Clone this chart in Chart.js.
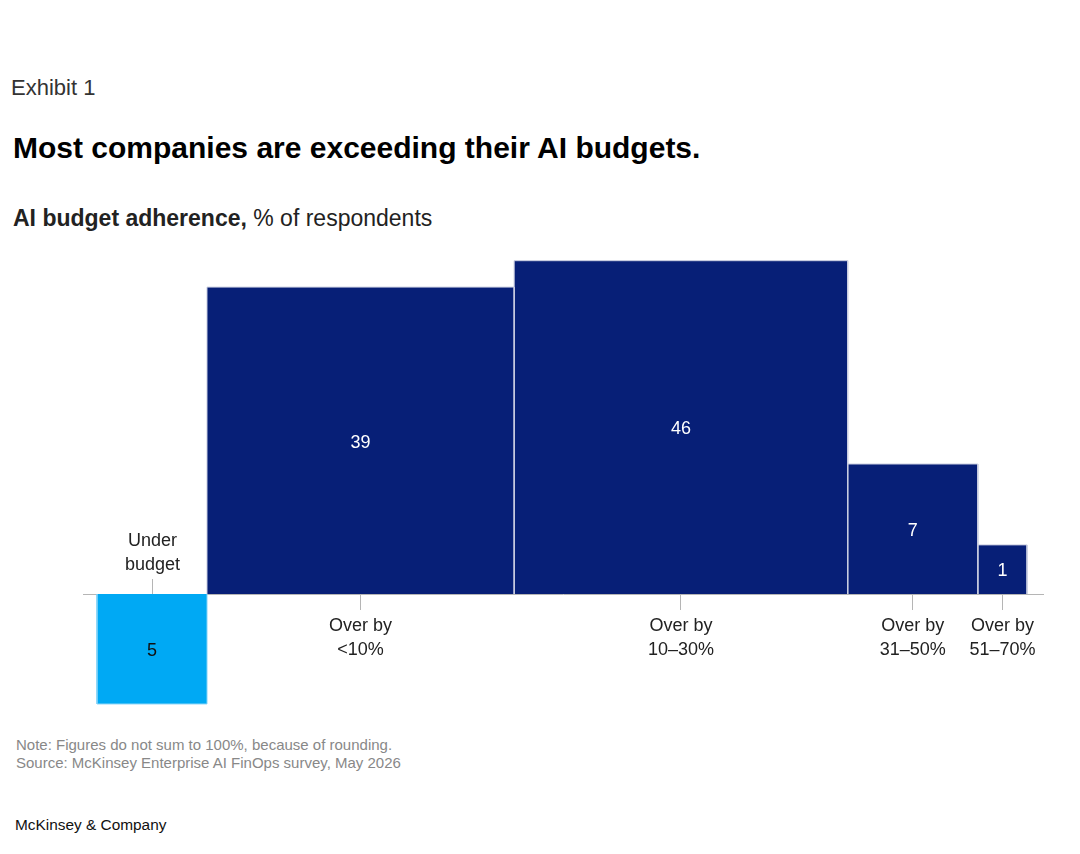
<!DOCTYPE html>
<html>
<head>
<meta charset="utf-8">
<script src="https://cdn.jsdelivr.net/npm/chart.js@4.4.1/dist/chart.umd.min.js"></script>
<style>
body{margin:0;width:1080px;height:854px;background:#fff;font-family:"Liberation Sans",Arial,sans-serif;position:relative;overflow:hidden}
.t{position:absolute;white-space:nowrap}
#exhibit{left:11px;top:76px;font-size:22px;line-height:24px;color:#333}
#title{left:13px;top:130px;font-size:30px;line-height:36px;font-weight:bold;color:#000}
#sub{left:13px;top:205px;font-size:23px;line-height:26px;color:#222}
#note{left:16px;top:736px;font-size:15px;line-height:18px;color:#888}
#brand{left:15px;top:815px;font-size:15.4px;line-height:20px;color:#111}
#wrap{position:absolute;left:0;top:240px;width:1080px;height:480px}
</style>
</head>
<body>
<div class="t" id="exhibit">Exhibit 1</div>
<div class="t" id="title">Most companies are exceeding their AI budgets.</div>
<div class="t" id="sub"><b>AI budget adherence,</b> % of respondents</div>
<div class="t" id="note">Note: Figures do not sum to 100%, because of rounding.<br>Source: McKinsey Enterprise AI FinOps survey, May 2026</div>
<div class="t" id="brand">McKinsey &amp; Company</div>
<div id="wrap"><canvas id="myChart" width="1080" height="480"></canvas></div>
<script>
const categories = ['Under budget', 'Over by <10%', 'Over by 10–30%', 'Over by 31–50%', 'Over by 51–70%'];
const tickLabels = [['Under', 'budget'], ['Over by', '<10%'], ['Over by', '10–30%'], ['Over by', '31–50%'], ['Over by', '51–70%']];
const shares = [5, 39, 46, 7, 1];
const belowAxis = [true, false, false, false, false];
const fillColors = ['#00a9f4', '#071f77', '#071f77', '#071f77', '#071f77'];
const edgeColors = ['#7fd2f8', '#c9cde0', '#c9cde0', '#c9cde0', '#c9cde0'];
const valueColors = ['#111111', '#ffffff', '#ffffff', '#ffffff', '#ffffff'];

// each answer is a square whose area is the share
let edge = 0;
const squares = shares.map((v, i) => {
    const side = Math.sqrt(v);
    const sq = { x0: edge, x1: edge + side, h: belowAxis[i] ? -side : side };
    edge += side;
    return sq;
});
const centers = squares.map(s => (s.x0 + s.x1) / 2);

const squareLabels = {
    id: 'squareLabels',
    afterDatasetsDraw(chart) {
        const { ctx, scales: { x, y } } = chart;
        ctx.save();
        ctx.font = '18px "Liberation Sans", Arial, sans-serif';
        ctx.textAlign = 'center';
        ctx.textBaseline = 'middle';
        squares.forEach((s, i) => {
            ctx.fillStyle = valueColors[i];
            ctx.fillText(String(shares[i]), x.getPixelForValue(centers[i]), y.getPixelForValue(s.h / 2) + 2);
        });
        // label for the bar that hangs below the axis goes above it
        const base = y.getPixelForValue(0);
        belowAxis.forEach((b, i) => {
            if (!b) return;
            const px = Math.round(x.getPixelForValue(centers[i])) + 0.5;
            ctx.strokeStyle = '#b5b5b5';
            ctx.lineWidth = 1;
            ctx.beginPath();
            ctx.moveTo(px, base - 15);
            ctx.lineTo(px, base);
            ctx.stroke();
            ctx.fillStyle = '#222';
            ctx.fillText(tickLabels[i][0], px, base - 53);
            ctx.fillText(tickLabels[i][1], px, base - 29);
        });
        ctx.restore();
    }
};

const ctx = document.getElementById('myChart').getContext('2d');

new Chart(ctx, {
    type: 'line',
    data: {
        datasets: squares.map((s, i) => ({
            label: categories[i],
            data: [{ x: s.x0, y: 0 }, { x: s.x0, y: s.h }, { x: s.x1, y: s.h }, { x: s.x1, y: 0 }],
            backgroundColor: fillColors[i],
            borderColor: edgeColors[i],
            borderWidth: 1,
            fill: 'origin',
            pointRadius: 0,
            tension: 0
        }))
    },
    options: {
        responsive: false,
        animation: false,
        devicePixelRatio: 1,
        layout: { padding: { left: 83, right: 37, top: 10, bottom: 8 } },
        plugins: { legend: { display: false }, tooltip: { enabled: false } },
        scales: {
            x: {
                type: 'linear',
                position: { y: 0 },
                min: -0.285,
                max: 19.234,
                afterFit: axis => { axis.height = 0; },
                afterBuildTicks: axis => { axis.ticks = centers.map(v => ({ value: v })); },
                grid: { drawOnChartArea: false, tickLength: 15, color: '#b5b5b5' },
                border: { color: '#b5b5b5' },
                ticks: {
                    autoSkip: false,
                    maxRotation: 0,
                    padding: 5,
                    color: '#222',
                    font: { family: '"Liberation Sans", Arial, sans-serif', size: 18, lineHeight: 1.3333 },
                    callback: (value, index) => belowAxis[index] ? '' : tickLabels[index]
                }
            },
            y: {
                display: false,
                min: -2.4,
                max: 7
            }
        }
    },
    plugins: [squareLabels]
});
</script>
</body>
</html>
